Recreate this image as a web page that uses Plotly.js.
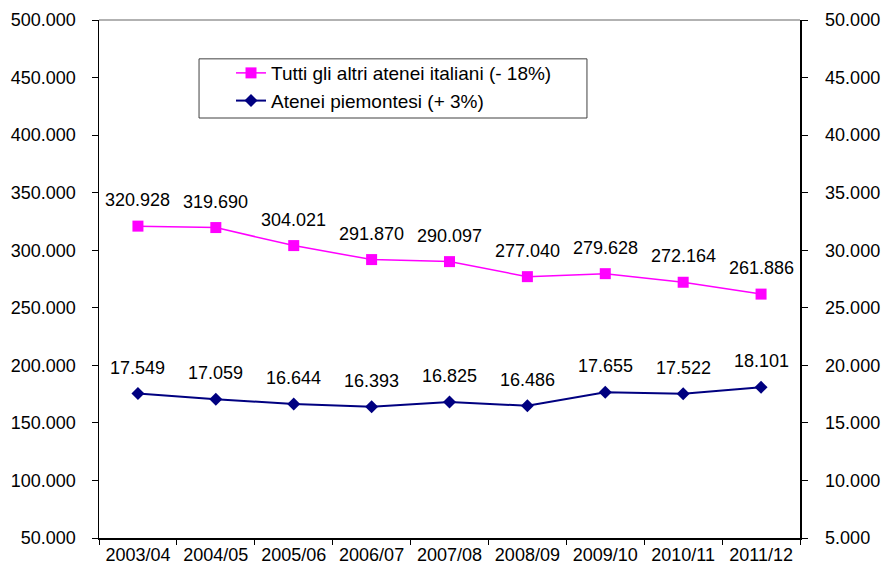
<!DOCTYPE html>
<html>
<head>
<meta charset="utf-8">
<script src="https://cdn.plot.ly/plotly-3.0.1.min.js"></script>
<style>html,body{margin:0;padding:0;background:#fff;}#chart{width:883px;height:573px;}</style>
</head>
<body>
<div id="chart"></div>
<script>
const categories = ["2003/04","2004/05","2005/06","2006/07","2007/08","2008/09","2009/10","2010/11","2011/12"];
const altriAtenei = [320928, 319690, 304021, 291870, 290097, 277040, 279628, 272164, 261886];
const ateneiPiemontesi = [17549, 17059, 16644, 16393, 16825, 16486, 17655, 17522, 18101];
const leftTicks = [50000,100000,150000,200000,250000,300000,350000,400000,450000,500000];
const rightTicks = [5000,10000,15000,20000,25000,30000,35000,40000,45000,50000];
const seriesNames = ["Tutti gli altri atenei italiani (- 18%)", "Atenei piemontesi (+ 3%)"];

const fmtTick = v => { const s = String(v); const th = s.slice(-3); const hi = s.slice(0, -3); return hi + '.' + th; };

const FONT = 'Liberation Sans, Arial, sans-serif';

const traces = [
  {
    x: categories, y: altriAtenei, name: seriesNames[0], type: 'scatter', mode: 'lines+markers',
    line: {color: '#FF00FF', width: 1.5},
    marker: {symbol: 'square', size: 11, color: '#FF00FF'},
    yaxis: 'y'
  },
  {
    x: categories, y: ateneiPiemontesi, name: seriesNames[1], type: 'scatter', mode: 'lines+markers',
    line: {color: '#000080', width: 2},
    marker: {symbol: 'diamond', size: 10, color: '#000080'},
    yaxis: 'y2'
  }
];

const annotations = [];
categories.forEach((c, i) => {
  annotations.push({x: c, y: altriAtenei[i], xref: 'x', yref: 'y', text: fmtTick(altriAtenei[i]),
    showarrow: false, yshift: 26, yanchor: 'middle', font: {family: FONT, size: 18, color: '#000'}});
  annotations.push({x: c, y: ateneiPiemontesi[i], xref: 'x', yref: 'y2', text: fmtTick(ateneiPiemontesi[i]),
    showarrow: false, yshift: 26, yanchor: 'middle', font: {family: FONT, size: 18, color: '#000'}});
});

const layout = {
  width: 883, height: 573,
  margin: {l: 99, r: 83, t: 20, b: 35, pad: 0},
  paper_bgcolor: '#fff', plot_bgcolor: '#fff',
  font: {family: FONT, size: 18, color: '#000'},
  showlegend: true,
  legend: {
    x: 0.1883, y: 0.9343, xanchor: 'left', yanchor: 'top',
    bgcolor: 'rgba(0,0,0,0)', borderwidth: 0,
    font: {family: FONT, size: 19, color: '#000'},
    traceorder: 'normal'
  },
  xaxis: {
    type: 'category', showgrid: false, zeroline: false,
    showline: true, linecolor: '#000', linewidth: 1.5,
    ticks: 'outside', tickson: 'boundaries', ticklen: 5, tickcolor: '#000',
    tickfont: {family: FONT, size: 18, color: '#000'},
    range: [-0.5, 8.5]
  },
  yaxis: {
    range: [50000, 500000], tickvals: leftTicks, ticktext: leftTicks.map(fmtTick),
    showgrid: false, zeroline: false, showline: true, linecolor: '#000', linewidth: 1.5,
    ticks: 'outside', ticklen: 6, tickcolor: '#000', ticklabelstandoff: 12,
    tickfont: {family: FONT, size: 18, color: '#000'}
  },
  yaxis2: {
    range: [5000, 50000], tickvals: rightTicks, ticktext: rightTicks.map(fmtTick),
    overlaying: 'y', side: 'right',
    showgrid: false, zeroline: false, showline: true, linecolor: '#000', linewidth: 1.5,
    ticks: 'outside', ticklen: 6, tickcolor: '#000', ticklabelstandoff: 14,
    tickfont: {family: FONT, size: 18, color: '#000'}
  },
  shapes: [
    {type: 'line', xref: 'paper', yref: 'paper', x0: 0, x1: 1, y0: 1, y1: 1, line: {color: '#999', width: 1.5}},
    {type: 'rect', xref: 'paper', yref: 'paper', x0: 0.1427, x1: 0.6961, y0: 0.8108, y1: 0.925,
     line: {color: '#404040', width: 1}, fillcolor: 'rgba(0,0,0,0)', layer: 'below'}
  ],
  annotations: annotations
};

Plotly.newPlot('chart', traces, layout, {displayModeBar: false, staticPlot: true});
</script>
</body>
</html>
